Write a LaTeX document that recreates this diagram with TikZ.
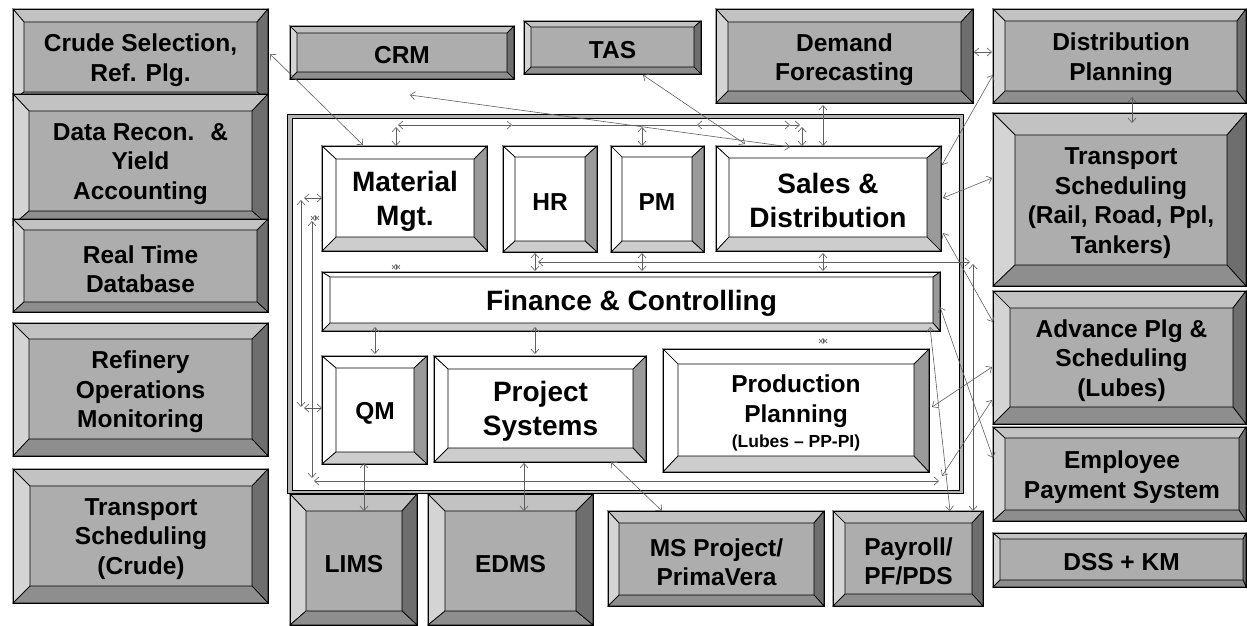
\documentclass[tikz,border=0pt]{standalone}
\usepackage{fontspec}
\setmainfont{Liberation Sans}
\usetikzlibrary{arrows.meta,calc}

% bevel palettes: g = grey buttons, w = white buttons
\definecolor{gface}{HTML}{ADADAD}
\definecolor{gtop}{HTML}{C2C2C2}
\definecolor{gleft}{HTML}{D4D4D4}
\definecolor{gright}{HTML}{6E6E6E}
\definecolor{gbot}{HTML}{8E8E8E}
\definecolor{wface}{HTML}{FFFFFF}
\definecolor{wtop}{HTML}{FFFFFF}
\definecolor{wleft}{HTML}{FFFFFF}
\definecolor{wright}{HTML}{9A9A9A}
\definecolor{wbot}{HTML}{CDCDCD}
\definecolor{linkgray}{HTML}{5E5E5E}
\definecolor{framegray}{HTML}{B4B4B4}

% #1 palette, #2-#5 outer corners, #6-#9 inner face corners
\newcommand\bevelbox[9]{%
  \fill[#1face] (#6,#7) rectangle (#8,#9);
  \filldraw[fill=#1top]   (#2,#3) -- (#4,#3) -- (#8,#7) -- (#6,#7) -- cycle;
  \filldraw[fill=#1left]  (#2,#3) -- (#6,#7) -- (#6,#9) -- (#2,#5) -- cycle;
  \filldraw[fill=#1right] (#4,#3) -- (#4,#5) -- (#8,#9) -- (#8,#7) -- cycle;
  \filldraw[fill=#1bot]   (#2,#5) -- (#4,#5) -- (#8,#9) -- (#6,#9) -- cycle;
  \draw[line width=0.9pt] (#2,#3) rectangle (#4,#5);
}

\tikzset{
  face/.style={inner sep=0pt, outer sep=0pt, align=center, yshift=-3pt,
    font=\bfseries\fontsize{24.5}{29.5}\selectfont},
  bigface/.style={face, font=\bfseries\fontsize{28}{34}\selectfont},
  spanning/.style n args={4}{at={({(#1+#3)/2},{(#2+#4)/2})},
    minimum width={(#3)-(#1)}, minimum height={(#4)-(#2)}},
  link/.style={draw=linkgray, line width=0.6pt,
    {Straight Barb[length=4.5pt,width=8pt]}-{Straight Barb[length=4.5pt,width=8pt]}},
  linkto/.style={draw=linkgray, line width=0.6pt, -{Straight Barb[length=4.5pt,width=8pt]}},
  linkplain/.style={draw=linkgray, line width=0.6pt},
}

\begin{document}
\begin{tikzpicture}[x=1pt, y=-1pt, line width=0.7pt, line join=miter]
\useasboundingbox (0,0) rectangle (1247,625);
\fill[white] (0,0) rectangle (1247,625);

% enclosing frame of the core modules
\filldraw[fill=framegray, even odd rule] (287,114) rectangle (963,493) (292,118) rectangle (959,490);

% outer grey systems
\bevelbox{g}{13}{9}{268}{100}{24}{22}{257}{92}
\bevelbox{g}{13}{94}{268}{225}{29}{111}{252}{211}
\bevelbox{g}{13}{219}{268}{312}{24}{230}{257}{302}
\bevelbox{g}{13}{323}{268}{456}{29}{339}{252}{439}
\bevelbox{g}{13}{469}{268}{603}{30}{486}{252}{586}
\bevelbox{g}{290}{26}{514}{79}{297}{33}{507}{72}
\bevelbox{g}{524}{21}{701}{74}{531}{27}{694}{67}
\bevelbox{g}{716}{9}{973}{103}{728}{22}{961}{91}
\bevelbox{g}{993}{9}{1246}{103}{1005}{21}{1237}{91}
\bevelbox{g}{993}{113}{1246}{286}{1015}{135}{1227}{265}
\bevelbox{g}{993}{291}{1246}{424}{1010}{308}{1233}{407}
\bevelbox{g}{993}{427}{1246}{521}{1005}{438}{1239}{510}
\bevelbox{g}{993}{533}{1246}{587}{1000}{539}{1243}{580}
\bevelbox{g}{833}{511}{983}{606}{845}{523}{972}{594}
\bevelbox{g}{608}{511}{824}{606}{619}{523}{814}{595}
\bevelbox{g}{428}{494}{593}{625}{445}{511}{576}{611}
\bevelbox{g}{290}{494}{417}{625}{306}{511}{402}{611}

% core white modules
\bevelbox{w}{322}{146}{487}{251}{336}{159}{474}{237}
\bevelbox{w}{503}{146}{597}{252}{515}{157}{585}{241}
\bevelbox{w}{611}{146}{704}{252}{622}{157}{692}{241}
\bevelbox{w}{716}{146}{941}{251}{729}{158}{927}{237}
\bevelbox{w}{322}{272}{940}{331}{330}{277}{933}{323}
\bevelbox{w}{322}{356}{427}{464}{336}{368}{414}{452}
\bevelbox{w}{434}{356}{646}{462}{448}{369}{633}{448}
\bevelbox{w}{663}{349}{929}{472}{678}{364}{914}{456}

% labels on the button faces
\node[face, spanning={24}{22}{257}{92}] (crude) {Crude Selection,\\Ref. Plg.};
\node[face, spanning={29}{111}{252}{211}] (recon) {Data Recon.~ \&\\Yield\\Accounting};
\node[face, spanning={24}{230}{257}{302}] (rtdb) {Real Time\\Database};
\node[face, spanning={29}{339}{252}{439}] (rom) {Refinery\\Operations\\Monitoring};
\node[face, spanning={30}{486}{252}{586}] (tsc) {Transport\\Scheduling\\(Crude)};
\node[face, spanning={297}{33}{507}{72}] (crm) {CRM};
\node[face, spanning={531}{27}{694}{67}] (tas) {TAS};
\node[face, spanning={728}{22}{961}{91}] (dem) {Demand\\Forecasting};
\node[face, spanning={1005}{21}{1237}{91}] (dist) {Distribution\\Planning};
\node[face, spanning={1015}{135}{1227}{265}] (tsr) {Transport\\Scheduling\\(Rail, Road, Ppl,\\Tankers)};
\node[face, spanning={1010}{308}{1233}{407}] (adv) {Advance Plg \&\\Scheduling\\(Lubes)};
\node[face, spanning={1005}{438}{1239}{510}] (emp) {Employee\\Payment System};
\node[face, spanning={1000}{539}{1243}{580}] (dss) {DSS + KM};
\node[face, spanning={845}{523}{972}{594}] (pay) {Payroll/\\PF/PDS};
\node[face, spanning={619}{523}{814}{595}] (msp) {MS Project/\\PrimaVera};
\node[face, spanning={445}{511}{576}{611}] (edms) {EDMS};
\node[face, spanning={306}{511}{402}{611}] (lims) {LIMS};

\node[bigface, spanning={336}{159}{474}{237}] (mm) {Material\\Mgt.};
\node[face, spanning={515}{157}{585}{241}] (hr) {HR};
\node[face, spanning={622}{157}{692}{241}] (pm) {PM};
\node[bigface, spanning={729}{158}{927}{237}] (sd) {Sales \&\\Distribution};
\node[bigface, spanning={330}{277}{933}{323}] (fc) {Finance \& Controlling};
\node[face, spanning={336}{368}{414}{452}] (qm) {QM};
\node[bigface, spanning={448}{369}{633}{448}] (ps) {Project\\Systems};
\node[face, spanning={678}{364}{914}{456}] (pp) {Production\\Planning\\[-4pt]{\fontsize{17.5}{19}\selectfont (Lubes -- PP-PI)}};

% links above the core row
\draw[link] ($(crude.north west)+(246,29)$) -- ($(mm.north west)+(27,-17)$);
\coordinate (crmtap) at ($(crm.south west)+(113,20)$);
\draw[link] (crmtap) -- ($(sd.north west)+(61,-14)$);
\draw[link] ($(tas.north west)+(112,45)$) -- ($(sd.north west)+(16,-17)$);
\draw[link] ($(mm.north west)+(62,-37)$) -- ($(mm.north west)+(176,-37)$);
\draw[linkplain] ($(mm.north west)+(176,-37)$) -- ($(sd.north west)+(-32,-36)$);
\draw[link] ($(sd.north west)+(-32,-36)$) -- ($(sd.north west)+(61,-36)$);
\draw[linkto] ($(sd.north west)+(61,-36)$) -- ($(sd.north west)+(71,-36)$);
\draw[link] ($(mm.north west)+(60,-35)$) -- ($(mm.north west)+(60,-16)$);
\draw[link] ($(pm.north west)+(20,-33)$) -- ($(pm.north west)+(20,-14)$);
\draw[link] ($(sd.north west)+(73,-34)$) -- ($(sd.north west)+(73,-15)$);
\draw[link] ($(dem.south west)+(95,11)$) -- ($(sd.north west)+(94,-15)$);

% left-hand routes inside the frame
\draw[link] ($(mm.north west)+(-35,38)$) -- ($(qm.north west)+(-35,36)$);
\draw[link] ($(mm.north west)+(-32,36)$) -- ($(mm.north west)+(-14,36)$);
\draw[link] ($(qm.north west)+(-32,37)$) -- ($(qm.north west)+(-14,37)$);
\draw[link] ($(mm.north west)+(-24,59)$) -- ($(qm.south west)+(-24,23)$);
\draw[link] ($(mm.north west)+(-21,53)$) -- ($(mm.north west)+(-21,59)$);
\draw[link] ($(qm.south west)+(-22,26)$) -- ($(pp.south east)+(25,22)$);

% links to Finance & Controlling
\draw[link] ($(mm.south west)+(60,24)$) -- ($(mm.south west)+(60,30)$);
\draw[link] ($(hr.south west)+(20,9)$) -- ($(fc.north west)+(205,-9)$);
\draw[link] ($(pm.south west)+(20,9)$) -- ($(fc.north west)+(312,-9)$);
\draw[link] ($(sd.south west)+(94,13)$) -- ($(fc.north west)+(493,-9)$);
\draw[link] ($(hr.south west)+(23,18)$) -- ($(sd.south east)+(43,22)$);
\draw[link] ($(sd.south east)+(46,24)$) -- ($(pay.north west)+(128,-15)$);
\draw[link] ($(fc.south west)+(45,1)$) -- ($(qm.north west)+(39,-17)$);
\draw[link] ($(fc.south west)+(205,1)$) -- ($(ps.north west)+(87,-18)$);
\draw[link] ($(fc.south west)+(493,12)$) -- ($(fc.south west)+(493,18)$);

% links to the lower systems
\draw[link] ($(qm.south west)+(28,8)$) -- ($(lims.north west)+(58,-3)$);
\draw[link] ($(ps.south west)+(76,12)$) -- ($(edms.north west)+(79,-3)$);
\draw[link] ($(ps.south west)+(163,11)$) -- ($(msp.north west)+(43,-15)$);

% links to the right-hand systems
\draw[link] ($(sd.north east)+(15,4)$) -- ($(dist.north west)+(-12,51)$);
\draw[link] ($(sd.north east)+(16,37)$) -- ($(tsr.north west)+(-23,40)$);
\draw[link] ($(dem.north east)+(13,27)$) -- ($(dist.north west)+(-13,28)$);
\draw[link] ($(dist.south west)+(127,3)$) -- ($(tsr.north west)+(117,-15)$);
\draw[link] ($(sd.south east)+(16,-7)$) -- ($(adv.north west)+(-17,11)$);
\draw[link] ($(fc.north east)+(7,27)$) -- ($(emp.north west)+(-12,17)$);
\draw[link] ($(fc.south east)+(-3,1)$) -- ($(pay.north west)+(105,-15)$);
\draw[link] ($(pp.north east)+(18,40)$) -- ($(adv.north west)+(-18,56)$);
\draw[link] ($(pp.south east)+(28,17)$) -- ($(adv.north west)+(-18,89)$);
\end{tikzpicture}
\end{document}
